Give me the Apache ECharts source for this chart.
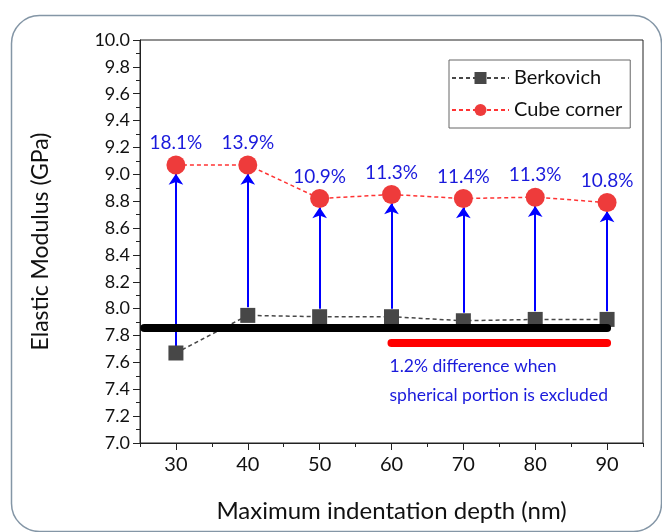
<!DOCTYPE html>
<html><head><meta charset="utf-8">
<script src="https://cdn.jsdelivr.net/npm/echarts@6/dist/echarts.min.js"></script>
<style>html,body{margin:0;padding:0;background:#fff}#c{width:662px;height:532px}</style>
</head><body><div id="c"></div>
<script>
const depths = [30, 40, 50, 60, 70, 80, 90];
const berkovich = [7.67, 7.95, 7.94, 7.94, 7.91, 7.92, 7.92];
const cubeCorner = [9.07, 9.07, 8.82, 8.85, 8.82, 8.83, 8.79];
const percentLabels = ['18.1%', '13.9%', '10.9%', '11.3%', '11.4%', '11.3%', '10.8%'];
const xTickLabels = [30, 40, 50, 60, 70, 80, 90];
const referenceLevel = 7.855;
const excludedLevel = 7.75;
const excludedRange = [60, 90];
const noteLines = ['1.2% difference when', 'spherical portion is excluded'];
const noteAnchors = [7.57, 7.355];

const FONT = 'Lato';
const chart = echarts.init(document.getElementById('c'), null, {renderer: 'canvas'});

const arrowData = depths.map((d, i) => ({coords: [[d, berkovich[i] + (i === 0 ? 0.05 : 0.06)], [d, cubeCorner[i] - 0.065]]}));

chart.setOption({
  animation: false,
  backgroundColor: '#fff',
  textStyle: {fontFamily: FONT},
  graphic: [{
    type: 'rect', left: 9, top: 13, z: -10,
    shape: {width: 650, height: 516, r: 28},
    style: {fill: 'none', stroke: '#8496a6', lineWidth: 1.5}
  }],
  grid: {left: 140, right: 19, top: 40, bottom: 89, show: true, borderColor: '#222', borderWidth: 1},
  legend: {
    orient: 'vertical', left: 449, top: 60,
    padding: [8, 8, 8, 2], itemGap: 12,
    borderColor: '#666', borderWidth: 1,
    itemWidth: 57, itemHeight: 15,
    textStyle: {fontFamily: FONT, fontSize: 20, color: '#111'},
    data: ['Berkovich', 'Cube corner']
  },
  xAxis: [{
    type: 'value', min: 25, max: 95,
    axisLine: {show: true, lineStyle: {color: '#222'}},
    axisTick: {show: true, customValues: xTickLabels, length: 7, lineStyle: {color: '#222'}},
    axisLabel: {customValues: xTickLabels, fontFamily: FONT, fontSize: 20, color: '#111', margin: 12},
    splitLine: {show: false},
    name: 'Maximum indentation depth (nm)', nameLocation: 'middle', nameGap: 56,
    nameTextStyle: {fontFamily: FONT, fontSize: 24, color: '#111'}
  }, {
    type: 'value', min: 25, max: 95, interval: 5, position: 'bottom',
    axisLine: {show: false},
    axisTick: {show: true, length: 4, lineStyle: {color: '#222'}},
    axisLabel: {show: false}, splitLine: {show: false}
  }],
  yAxis: {
    type: 'value', min: 7, max: 10, interval: 0.2,
    axisLine: {show: true, lineStyle: {color: '#222'}},
    axisTick: {show: true, length: 7, lineStyle: {color: '#222'}},
    minorTick: {show: true, splitNumber: 2, length: 4, lineStyle: {color: '#222'}},
    axisLabel: {fontFamily: FONT, fontSize: 18, color: '#111', margin: 10, formatter: v => v.toFixed(1)},
    splitLine: {show: false},
    name: 'Elastic Modulus (GPa)', nameLocation: 'middle', nameGap: 88,
    nameTextStyle: {fontFamily: FONT, fontSize: 23, color: '#111'}
  },
  series: [
    {
      name: 'reference', type: 'line', data: [], silent: true,
      markLine: {
        silent: true, symbol: ['none', 'none'], label: {show: false},
        data: [
          [{coord: [25.6, referenceLevel], lineStyle: {color: '#000', width: 8, type: 'solid', cap: 'round'}}, {coord: [90, referenceLevel]}],
          [{coord: [excludedRange[0], excludedLevel], lineStyle: {color: '#ff0000', width: 8, type: 'solid', cap: 'round'}}, {coord: [excludedRange[1], excludedLevel]}]
        ]
      },
      markPoint: {
        symbol: 'circle', symbolSize: 0, silent: true,
        data: noteLines.map((t, i) => ({
          coord: [excludedRange[0], noteAnchors[i]],
          label: {show: true, position: 'right', distance: -2, formatter: t, color: '#1a1adc', fontSize: 17.5, fontFamily: FONT}
        }))
      }
    },
    {
      name: 'arrows', type: 'lines', coordinateSystem: 'cartesian2d', z: 3,
      symbol: ['none', 'arrow'], symbolSize: [0, 11],
      lineStyle: {color: '#0000ff', width: 2, opacity: 1, curveness: 0},
      data: arrowData
    },
    {
      name: 'Berkovich', type: 'line', z: 4,
      data: depths.map((d, i) => [d, berkovich[i]]),
      symbol: 'rect', symbolSize: 15,
      itemStyle: {color: '#474747'},
      lineStyle: {color: '#474747', width: 1.5, type: [4, 3]}
    },
    {
      name: 'Cube corner', type: 'line', z: 5,
      data: depths.map((d, i) => [d, cubeCorner[i]]),
      symbol: 'circle', symbolSize: 19,
      itemStyle: {color: '#ee3b3b'},
      lineStyle: {color: '#ff3333', width: 1.5, type: [4, 3]},
      label: {show: true, position: 'top', distance: 3, color: '#1a1adc', fontSize: 19, fontFamily: FONT,
        formatter: p => percentLabels[p.dataIndex]}
    }
  ]
});
</script></body></html>
